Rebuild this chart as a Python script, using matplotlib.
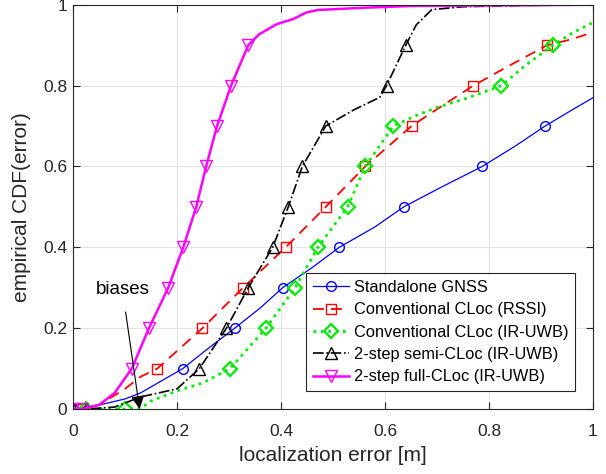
import numpy as np
import matplotlib.pyplot as plt

plt.rcParams['font.family'] = ['Liberation Sans', 'DejaVu Sans']

# Standalone GNSS
gnss_x = [0.0, 0.05, 0.10, 0.13, 0.211, 0.26, 0.311, 0.36, 0.403, 0.46, 0.512, 0.58, 0.636, 0.71, 0.787, 0.85, 0.908, 0.96, 1.0]
gnss_y = [0.0, 0.01, 0.025, 0.04, 0.1, 0.15, 0.2, 0.25, 0.3, 0.35, 0.4, 0.45, 0.5, 0.55, 0.6, 0.65, 0.7, 0.74, 0.77]

# Conventional CLoc (RSSI)
rssi_x = [0.005, 0.05, 0.10, 0.13, 0.162, 0.249, 0.327, 0.409, 0.486, 0.562, 0.651, 0.71, 0.77, 0.84, 0.912, 0.96, 1.0]
rssi_y = [0.0, 0.01, 0.05, 0.08, 0.1, 0.2, 0.3, 0.4, 0.5, 0.6, 0.7, 0.75, 0.8, 0.85, 0.9, 0.915, 0.932]

# Conventional CLoc (IR-UWB)
uwb_x = [0.025, 0.10, 0.13, 0.15, 0.20, 0.25, 0.302, 0.371, 0.427, 0.471, 0.528, 0.562, 0.616, 0.66, 0.70, 0.76, 0.824, 0.87, 0.923, 0.96, 1.0]
uwb_y = [0.0, 0.0, 0.002, 0.02, 0.045, 0.065, 0.1, 0.2, 0.3, 0.4, 0.5, 0.6, 0.7, 0.726, 0.746, 0.77, 0.8, 0.85, 0.9, 0.93, 0.956]

# 2-step semi-CLoc (IR-UWB)
semi_x = [0.0, 0.025, 0.08, 0.13, 0.20, 0.243, 0.295, 0.337, 0.384, 0.414, 0.441, 0.486, 0.54, 0.59, 0.603, 0.64, 0.66, 0.69, 0.75, 0.85, 1.0]
semi_y = [0.0, 0.0, 0.005, 0.03, 0.05, 0.1, 0.2, 0.3, 0.4, 0.5, 0.6, 0.7, 0.74, 0.771, 0.8, 0.9, 0.95, 0.988, 0.995, 0.998, 1.0]

# 2-step full-CLoc (IR-UWB)
full_x = [0.0, 0.017, 0.05, 0.08, 0.113, 0.146, 0.183, 0.212, 0.237, 0.256, 0.277, 0.304, 0.337, 0.358, 0.392, 0.424, 0.449, 0.471, 0.55, 0.65, 1.0]
full_y = [0.0, 0.0, 0.01, 0.04, 0.1, 0.2, 0.3, 0.4, 0.5, 0.6, 0.7, 0.8, 0.9, 0.927, 0.952, 0.965, 0.981, 0.987, 0.992, 0.997, 1.0]

labels = ['Standalone GNSS', 'Conventional CLoc (RSSI)', 'Conventional CLoc (IR-UWB)',
          '2-step semi-CLoc (IR-UWB)', '2-step full-CLoc (IR-UWB)']


def marks(x, y):
    # markers sit on the 0, 0.1, ..., 0.9 levels
    y = np.asarray(y)
    idx = [i for i in range(len(y)) if np.isclose(y[i] * 10, round(y[i] * 10)) and y[i] < 0.95]
    return idx


fig = plt.figure(figsize=(6.06, 4.74), dpi=100)
ax = fig.add_axes([0.1205, 0.137, 0.858, 0.853])

ax.plot(gnss_x, gnss_y, '-', color='blue', lw=0.9, marker='o', ms=7, mfc='none',
        markevery=marks(gnss_x, gnss_y), label=labels[0])
ax.plot(rssi_x, rssi_y, '--', color='red', lw=1.3, marker='s', ms=6.5, mfc='none', dashes=(6, 4),
        markevery=marks(rssi_x, rssi_y), label=labels[1])
ax.plot(uwb_x, uwb_y, ':', color='#00ee00', lw=2.0, marker='D', ms=7, mfc='none', mew=1.6,
        markevery=marks(uwb_x, uwb_y), label=labels[2])
ax.plot(semi_x, semi_y, '-.', color='black', lw=1.2, marker='^', ms=8.5, mfc='none',
        markevery=marks(semi_x, semi_y), label=labels[3])
ax.plot(full_x, full_y, '-', color='magenta', lw=1.8, marker='v', ms=8.5, mfc='none',
        markevery=marks(full_x, full_y), label=labels[4])

ax.set_xlim(0, 1)
ax.set_ylim(0, 1)
ax.set_xticks([0, 0.2, 0.4, 0.6, 0.8, 1])
ax.set_xticklabels(['0', '0.2', '0.4', '0.6', '0.8', '1'])
ax.set_yticks([0, 0.2, 0.4, 0.6, 0.8, 1])
ax.set_yticklabels(['0', '0.2', '0.4', '0.6', '0.8', '1'])
ax.tick_params(direction='in', top=True, right=True, labelsize=12.5, colors='#262626', length=5)
ax.tick_params(axis='x', pad=11)
ax.tick_params(axis='y', pad=4)
ax.grid(True, color='#e3e3e3', lw=0.8)
ax.set_axisbelow(True)
for s in ax.spines.values():
    s.set_color('#262626')
    s.set_linewidth(0.8)

ax.set_xlabel('localization error [m]', fontsize=15, color='#262626', labelpad=5)
ax.set_ylabel('empirical CDF(error)', fontsize=15, color='#262626', labelpad=9)

ax.annotate('biases', xy=(0.128, 0.0), xytext=(0.095, 0.295), fontsize=13.5, ha='center', va='center',
            arrowprops=dict(arrowstyle='-|>', color='black', lw=0.8, mutation_scale=20,
                            shrinkA=8, shrinkB=0))

leg = ax.legend(loc='lower right', fontsize=11.8, handlelength=2.2, borderpad=0.4, labelspacing=0.45,
                handletextpad=0.3, borderaxespad=1.1, fancybox=False, framealpha=1)
leg.get_frame().set_edgecolor('#262626')
leg.get_frame().set_linewidth(0.8)

fig.savefig('out.png', dpi=100)
